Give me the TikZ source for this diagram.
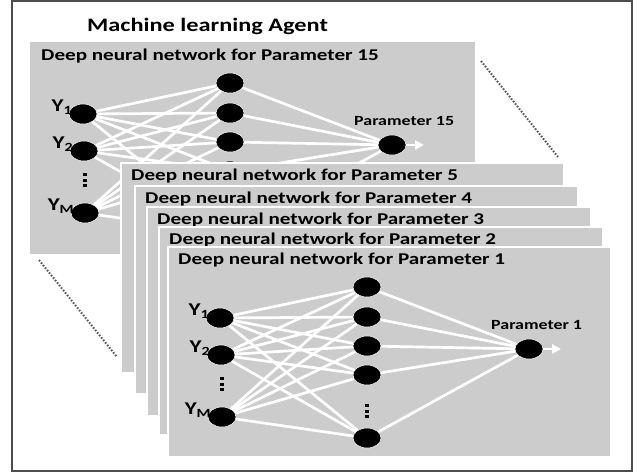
\documentclass[tikz,border=0pt]{standalone}
\usepackage{fontspec}
\setmainfont{Carlito}[FakeStretch=1.28]
\usetikzlibrary{arrows.meta,shapes.geometric}

\definecolor{panelgray}{gray}{0.8}
\definecolor{guidegray}{gray}{0.35}

\tikzset{
  panel/.style={fill=panelgray, draw=white, line width=1.5pt},
  neuron/.style={ellipse, fill=black, draw=white, line width=0.5pt,
    minimum width=28pt, minimum height=20pt, inner sep=0pt},
  link/.style={draw=white, line width=2.7pt},
  paneltitle/.style={anchor=base west, inner sep=0pt, font=\bfseries\fontsize{16.5}{17}\selectfont},
  ylabel/.style={anchor=east, inner sep=1pt, font=\bfseries\fontsize{18}{18}\selectfont},
  outlabel/.style={anchor=west, inner sep=0pt, font=\bfseries\fontsize{14}{14}\selectfont},
  guide/.style={draw=guidegray, dash pattern=on 1.6pt off 1.6pt, line width=2pt},
}

% lowered index of an input
\newcommand{\ysub}[1]{\raisebox{-3pt}{\fontsize{12.5}{12.5}\selectfont #1}}

% one network: #1 = name prefix, #2 = parameter number
\newcommand{\dnnet}[2]{%
    % input layer
    \node[neuron] (#1i1) at (220,318) {};
    \node[neuron] (#1i2) at (221,355) {};
    \node[neuron] (#1i3) at (222,417) {};
    \coordinate (#1idots) at (222,377);
    % hidden layer
    \foreach \j/\y in {1/287,2/317,3/346,4/375,5/438}
        \node[neuron] (#1h\j) at (367,\y) {};
    \coordinate (#1hdots) at (367,404);
    % stacked dots
    \foreach \k in {0,5.5,11} {
        \fill ([shift={(-1.6,\k)}]#1idots) rectangle +(3.2,3.2);
        \fill ([shift={(-1.6,\k)}]#1hdots) rectangle +(3.2,3.2);
    }
    % output
    \node[neuron] (#1o) at (529,349) {};
    \coordinate (#1tip) at (561,349);
    % links
    \foreach \i in {1,2,3}
        \foreach \j in {1,...,5}
            \draw[link] (#1i\i) -- (#1h\j);
    \foreach \j in {1,...,5}
        \draw[link] (#1h\j) -- (#1o);
    \draw[link, -{Triangle[length=9pt,width=9pt]}] (#1o) -- (#1tip);
    % labels
    \node[ylabel] (#1y1) at (#1i1.north west) {Y\ysub{1}};
    \node[ylabel] (#1y2) at (#1i2.north west) {Y\ysub{2}};
    \node[ylabel] (#1ym) at (#1i3.north west) {Y\ysub{M}};
    \node[outlabel] (#1out) at (491,325) {Parameter #2};
}

\begin{document}
\begin{tikzpicture}[x=1pt, y=-1pt]

    \useasboundingbox (0,0) rectangle (644,474);

    % Outer frame
    \draw[gray!60!black, line width=1.2pt] (12,1) rectangle (632,471);

    % Title
    \node[anchor=base west, inner sep=0pt, font=\bfseries\fontsize{19}{19}\selectfont]
        (title) at (87,31) {Machine learning Agent};

    % Network for parameter 15 (back)
    \begin{scope}[shift={(-137,-204)}]
        \draw[panel, draw=panelgray] (168,247) rectangle (611,457);
        \node[paneltitle] (t15) at (178,264) {Deep neural network for Parameter 15};
        \dnnet{b}{15}
    \end{scope}

    % Stacked networks 5 .. 2
    \foreach \n/\l/\t/\r/\b in {5/121/163/564/373, 4/135/186/578/394,
                                3/147/207/591/416, 2/159/227/603/435} {
        \draw[panel] (\l,\t) rectangle (\r,\b);
        \node[paneltitle] (t\n) at (\l+10,\t+17) {Deep neural network for Parameter \n};
    }

    % Network for parameter 1 (front)
    \draw[panel] (168,247) rectangle (611,457);
    \node[paneltitle] (t1) at (178,264) {Deep neural network for Parameter 1};
    \dnnet{f}{1}

    % Dotted guides
    \coordinate (ga) at (481,61);
    \coordinate (gb) at (558,157);
    \coordinate (gc) at (39,260);
    \coordinate (gd) at (117,357);
    \draw[guide] (ga) -- (gb);
    \draw[guide] (gc) -- (gd);

\end{tikzpicture}
\end{document}
